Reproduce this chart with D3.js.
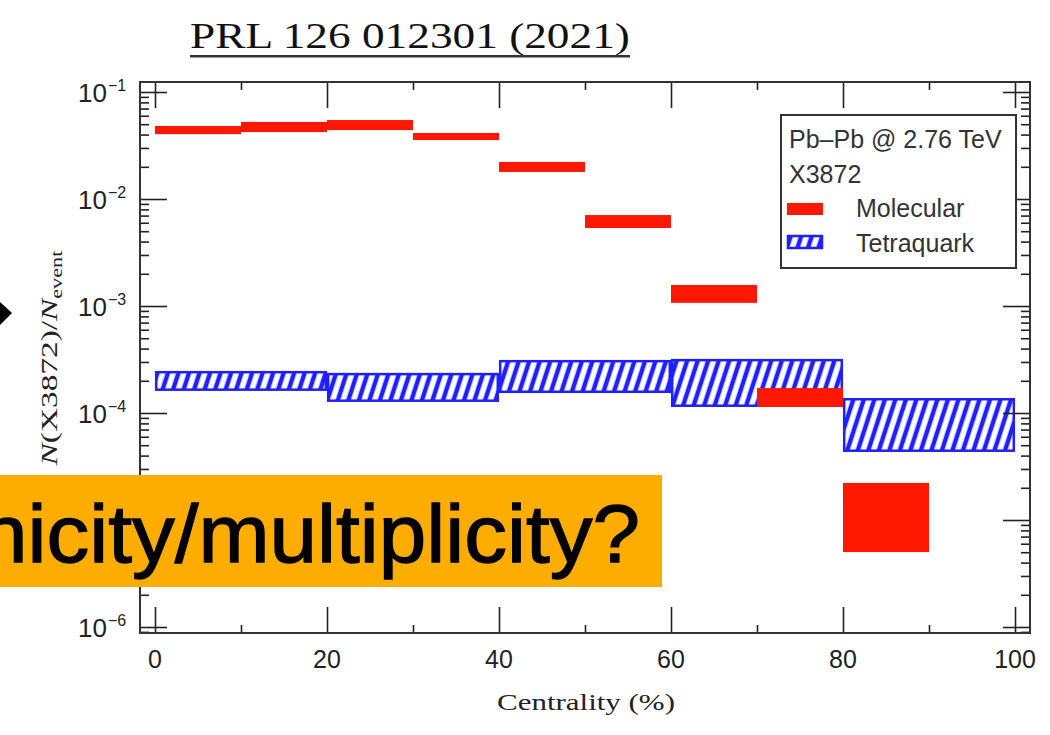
<!DOCTYPE html>
<html><head><meta charset="utf-8">
<script src="https://cdn.jsdelivr.net/npm/d3@7"></script>
<style>html,body{margin:0;padding:0;background:#fff;} svg{display:block}</style>
</head><body>
<svg id="chart" width="1050" height="735"></svg>
<script>
// ---------- data ----------
const titleText = "PRL 126 012301 (2021)";
const xTitle = "Centrality (%)";
const xMajorTicks = [0, 20, 40, 60, 80, 100];
const xMinorTicks = [10, 30, 50, 70, 90];
const yExponents = [-1, -2, -3, -4, -5, -6];
const yLabelExponents = [-1, -2, -3, -4, -6]; // 10^-5 label is hidden under the overlay banner
const legendHeader = ["Pb\u2013Pb @ 2.76 TeV", "X3872"];
const seriesNames = ["Molecular", "Tetraquark"];

// Molecular: 10%-wide centrality bins, band [low, high]
const molStart = [0, 10, 20, 30, 40, 50, 60, 70, 80];
const molHigh  = [0.0481, 0.0525, 0.0547, 0.0414, 0.0222, 0.00708, 0.00157, 1.71e-4, 2.22e-5];
const molLow   = [0.0404, 0.0422, 0.0441, 0.0356, 0.0179, 0.00536, 0.00107, 1.14e-4, 5.02e-6];
const molWidth = 10;

// Tetraquark: 20%-wide centrality bins, band [low, high]
const tetStart = [0, 20, 40, 60, 80];
const tetHigh  = [2.47e-4, 2.37e-4, 3.13e-4, 3.20e-4, 1.38e-4];
const tetLow   = [1.61e-4, 1.27e-4, 1.54e-4, 1.14e-4, 4.33e-5];
const tetWidth = 20;

const overlayText = "nicity/multiplicity?";

// ---------- setup ----------
const RED = "#ff1700", BLUE = "#2020ff", ORANGE = "#fdad00";
const svg = d3.select("#chart");
const frame = {left: 140, right: 1030, top: 82, bottom: 633};
const x = d3.scaleLinear().domain([-1.744, 101.744]).range([frame.left, frame.right]);
const y = d3.scaleLog().domain([Math.pow(10, -6.056), Math.pow(10, -0.9065)]).range([frame.bottom, frame.top]);

const defs = svg.append("defs");
const pat = defs.append("pattern").attr("id", "hatch")
  .attr("patternUnits", "userSpaceOnUse").attr("width", 10).attr("height", 10)
  .attr("patternTransform", "rotate(18)");
pat.append("rect").attr("width", 10).attr("height", 10).attr("fill", "#fff");
pat.append("line").attr("x1", 5).attr("x2", 5).attr("y1", -1).attr("y2", 11)
  .attr("stroke", BLUE).attr("stroke-width", 4.5);

function fitWidth(sel, target, cx, cy, rot) {
  const w = sel.node().getBBox().width;
  const s = target / w;
  sel.attr("transform", `translate(${cx},${cy}) rotate(${rot}) scale(${s},1)`);
}

// ---------- title ----------
const t = svg.append("text").text(titleText)
  .attr("font-family", "Liberation Serif, Times New Roman, serif").attr("font-size", 35)
  .attr("fill", "#111").attr("text-anchor", "start");
fitWidth(t, 440, 190, 48, 0);
svg.append("rect").attr("x", 190).attr("y", 55).attr("width", 440).attr("height", 2.5).attr("fill", "#333");

// ---------- data marks ----------
const tet = tetStart.map((s, i) => ({s, hi: tetHigh[i], lo: tetLow[i]}));
svg.append("g").selectAll("rect").data(tet).join("rect")
  .attr("x", d => x(d.s) + 1.2)
  .attr("width", d => x(d.s + tetWidth) - x(d.s) - 2.4)
  .attr("y", d => y(d.hi) + 1.2)
  .attr("height", d => y(d.lo) - y(d.hi) - 2.4)
  .attr("fill", "url(#hatch)").attr("stroke", BLUE).attr("stroke-width", 2.5);

const mol = molStart.map((s, i) => ({s, hi: molHigh[i], lo: molLow[i]}));
svg.append("g").selectAll("rect").data(mol).join("rect")
  .attr("x", d => x(d.s))
  .attr("width", d => x(d.s + molWidth) - x(d.s))
  .attr("y", d => y(d.hi))
  .attr("height", d => y(d.lo) - y(d.hi))
  .attr("fill", RED);

// ---------- axes / frame ----------
const yMinor = [];
for (let e = -7; e <= 0; e++) for (let k = 2; k <= 9; k++) {
  const v = k * Math.pow(10, e);
  if (v > y.domain()[0] && v < y.domain()[1]) yMinor.push(v);
}
const yMajor = yExponents.map(e => Math.pow(10, e));

function styleAxis(g) {
  g.select(".domain").remove();
  g.selectAll("line").attr("stroke", "#222").attr("stroke-width", 1.6);
  g.selectAll("text").remove();
}
svg.append("g").attr("transform", `translate(0,${frame.bottom})`)
  .call(d3.axisBottom(x).tickValues(xMajorTicks).tickSize(-26)).call(styleAxis);
svg.append("g").attr("transform", `translate(0,${frame.bottom})`)
  .call(d3.axisBottom(x).tickValues(xMinorTicks).tickSize(-8)).call(styleAxis);
svg.append("g").attr("transform", `translate(0,${frame.top})`)
  .call(d3.axisTop(x).tickValues(xMajorTicks).tickSize(-26)).call(styleAxis);
svg.append("g").attr("transform", `translate(0,${frame.top})`)
  .call(d3.axisTop(x).tickValues(xMinorTicks).tickSize(-8)).call(styleAxis);
svg.append("g").attr("transform", `translate(${frame.left},0)`)
  .call(d3.axisLeft(y).tickValues(yMajor).tickSize(-27)).call(styleAxis);
svg.append("g").attr("transform", `translate(${frame.left},0)`)
  .call(d3.axisLeft(y).tickValues(yMinor).tickSize(-9)).call(styleAxis);
svg.append("g").attr("transform", `translate(${frame.right},0)`)
  .call(d3.axisRight(y).tickValues(yMajor).tickSize(-27)).call(styleAxis);
svg.append("g").attr("transform", `translate(${frame.right},0)`)
  .call(d3.axisRight(y).tickValues(yMinor).tickSize(-9)).call(styleAxis);

svg.append("rect").attr("x", frame.left).attr("y", frame.top)
  .attr("width", frame.right - frame.left).attr("height", frame.bottom - frame.top)
  .attr("fill", "none").attr("stroke", "#333").attr("stroke-width", 2);

// tick labels
const sans = "Liberation Sans, Arial, Helvetica, sans-serif";
svg.append("g").selectAll("text").data(xMajorTicks).join("text")
  .attr("x", d => x(d)).attr("y", 668).attr("text-anchor", "middle")
  .attr("font-family", sans).attr("font-size", 25).attr("fill", "#222").text(d => d);
const yl = svg.append("g").selectAll("g").data(yLabelExponents).join("g");
yl.append("text").attr("x", 107).attr("y", d => y(Math.pow(10, d)) + 10)
  .attr("text-anchor", "end").attr("font-family", sans).attr("font-size", 26).attr("fill", "#222").text("10");
yl.append("text").attr("x", 108).attr("y", d => y(Math.pow(10, d)) - 1)
  .attr("text-anchor", "start").attr("font-family", sans).attr("font-size", 16).attr("fill", "#222")
  .text(d => "\u2212" + Math.abs(d));

// axis titles
const xt = svg.append("text").text(xTitle)
  .attr("font-family", "Liberation Serif, Times New Roman, serif").attr("font-size", 24)
  .attr("fill", "#222").attr("text-anchor", "middle");
fitWidth(xt, 178, 586, 710, 0);

const ytxt = svg.append("text").attr("font-family", "Liberation Serif, Times New Roman, serif")
  .attr("font-size", 24).attr("fill", "#222").attr("text-anchor", "middle");
ytxt.append("tspan").attr("font-style", "italic").text("N");
ytxt.append("tspan").text("(X3872)/");
ytxt.append("tspan").attr("font-style", "italic").text("N");
ytxt.append("tspan").attr("font-size", 16).attr("dy", 5).text("event");
fitWidth(ytxt, 217, 57, 358, -90);

// ---------- legend ----------
const lg = svg.append("g");
lg.append("rect").attr("x", 781).attr("y", 115).attr("width", 235).attr("height", 153)
  .attr("fill", "#fff").attr("stroke", "#333").attr("stroke-width", 2);
lg.selectAll("text.h").data(legendHeader).join("text").attr("class", "h")
  .attr("x", 789).attr("y", (d, i) => 148 + i * 35)
  .attr("font-family", sans).attr("font-size", 25).attr("fill", "#333").text(d => d);
lg.append("rect").attr("x", 787).attr("y", 203).attr("width", 36).attr("height", 12).attr("fill", RED);
lg.append("rect").attr("x", 788).attr("y", 236).attr("width", 34).attr("height", 12)
  .attr("fill", "url(#hatch)").attr("stroke", BLUE).attr("stroke-width", 2.5);
lg.selectAll("text.s").data(seriesNames).join("text").attr("class", "s")
  .attr("x", 856).attr("y", (d, i) => 217 + i * 35)
  .attr("font-family", sans).attr("font-size", 25).attr("fill", "#333").text(d => d);

// ---------- slide decorations ----------
svg.append("polygon").attr("points", "0,302 12,313 0,325").attr("fill", "#000");
svg.append("rect").attr("x", 0).attr("y", 475).attr("width", 662).attr("height", 112).attr("fill", ORANGE);
svg.append("text").attr("x", -20).attr("y", 562).attr("font-family", sans).attr("font-size", 82)
  .attr("fill", "#000").attr("stroke", "#000").attr("stroke-width", 1.3)
  .attr("textLength", 660).attr("lengthAdjust", "spacingAndGlyphs").text(overlayText);
</script>
</body></html>
